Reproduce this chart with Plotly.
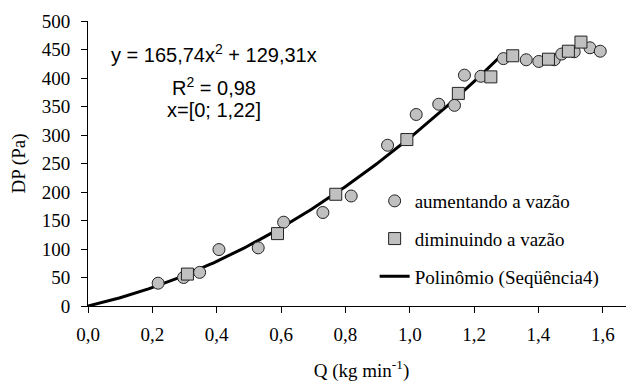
import plotly.graph_objects as go
import numpy as np

# aumentando a vazão (circles)
q_up = [0.218, 0.297, 0.347, 0.407, 0.529, 0.608, 0.730, 0.818, 0.931, 1.020,
        1.090, 1.139, 1.170, 1.221, 1.291, 1.362, 1.401, 1.449, 1.472, 1.511,
        1.560, 1.592]
dp_up = [40, 50, 59, 99, 102, 147, 164, 193, 282, 336,
         354, 352, 405, 403, 434, 432, 429, 432, 442, 446,
         453, 447]

# diminuindo a vazão (squares)
q_down = [0.309, 0.589, 0.770, 0.991, 1.151, 1.252, 1.320, 1.431, 1.493, 1.532]
dp_down = [56, 127, 196, 292, 373, 402, 439, 433, 447, 463]

# Polynomial trendline y = a x^2 + b x
coef_a = 165.74
coef_b = 129.31
fit_x_min, fit_x_max = 0.0, 1.29

x_ticks = [0.0, 0.2, 0.4, 0.6, 0.8, 1.0, 1.2, 1.4, 1.6]
x_tick_labels = ["0,0", "0,2", "0,4", "0,6", "0,8", "1,0", "1,2", "1,4", "1,6"]
y_ticks = list(range(0, 501, 50))

serif = "Liberation Serif"
sans = "Liberation Sans"

fx = np.linspace(fit_x_min, fit_x_max, 200)
fy = coef_a * fx**2 + coef_b * fx

mk_line = dict(color="#222222", width=1)

fig = go.Figure()
fig.add_trace(go.Scatter(
    x=fx, y=fy, mode="lines", name="Polinômio (Seqüência4)",
    line=dict(color="black", width=3), legendrank=3, legendgroup="c"))
fig.add_trace(go.Scatter(
    x=q_up, y=dp_up, mode="markers", name="aumentando a vazão",
    marker=dict(symbol="circle", size=12, color="#c0c0c0", line=mk_line),
    legendrank=1, legendgroup="a"))
fig.add_trace(go.Scatter(
    x=q_down, y=dp_down, mode="markers", name="diminuindo a vazão",
    marker=dict(symbol="square", size=12, color="#c0c0c0", line=mk_line),
    legendrank=2, legendgroup="b"))

# plot area: page body adds 8px offset, so margins are reduced accordingly
PL, PT, PW, PH = 80, 12.7, 547, 285.3

fig.update_layout(
    width=634, height=383,
    margin=dict(l=PL, r=634 - PL - PW, t=PT, b=383 - PT - PH, autoexpand=False),
    paper_bgcolor="white", plot_bgcolor="white",
    font=dict(family=serif, size=19, color="black"),
    showlegend=True,
    legend=dict(x=0.524, y=0.435, xanchor="left", yanchor="top",
                bgcolor="rgba(0,0,0,0)", font=dict(family=serif, size=19),
                traceorder="grouped", tracegroupgap=10, itemwidth=30),
    xaxis=dict(range=[0, 1.7], tickvals=x_ticks, ticktext=x_tick_labels,
               showgrid=False, zeroline=False, showline=True, linecolor="black",
               linewidth=1, ticks="outside", ticklen=6, tickcolor="black",
               tickfont=dict(family=serif, size=19), automargin=False,
               ticklabelstandoff=5,
               title=dict(text="Q (kg min<sup>-1</sup>)", font=dict(family=serif, size=19),
                          standoff=19)),
    yaxis=dict(range=[0, 500], tickvals=y_ticks,
               showgrid=False, zeroline=False, showline=True, linecolor="black",
               linewidth=1, ticks="outside", ticklen=6, tickcolor="black",
               tickfont=dict(family=serif, size=19), automargin=False,
               ticklabelstandoff=7,
               title=dict(text="DP (Pa)", font=dict(family=serif, size=19),
                          standoff=14)),
)

eq_lines = ["y = 165,74x<sup>2</sup> + 129,31x", "R<sup>2</sup> = 0,98", "x=[0; 1,22]"]
eq_y = [53, 86, 110]
for txt, py in zip(eq_lines, eq_y):
    fig.add_annotation(text=txt, xref="paper", yref="paper",
                       x=(214 - 88) / PW, y=(306 - py) / PH,
                       showarrow=False, xanchor="center", yanchor="middle",
                       font=dict(family=sans, size=20, color="black"))

fig.write_html("out.html")
